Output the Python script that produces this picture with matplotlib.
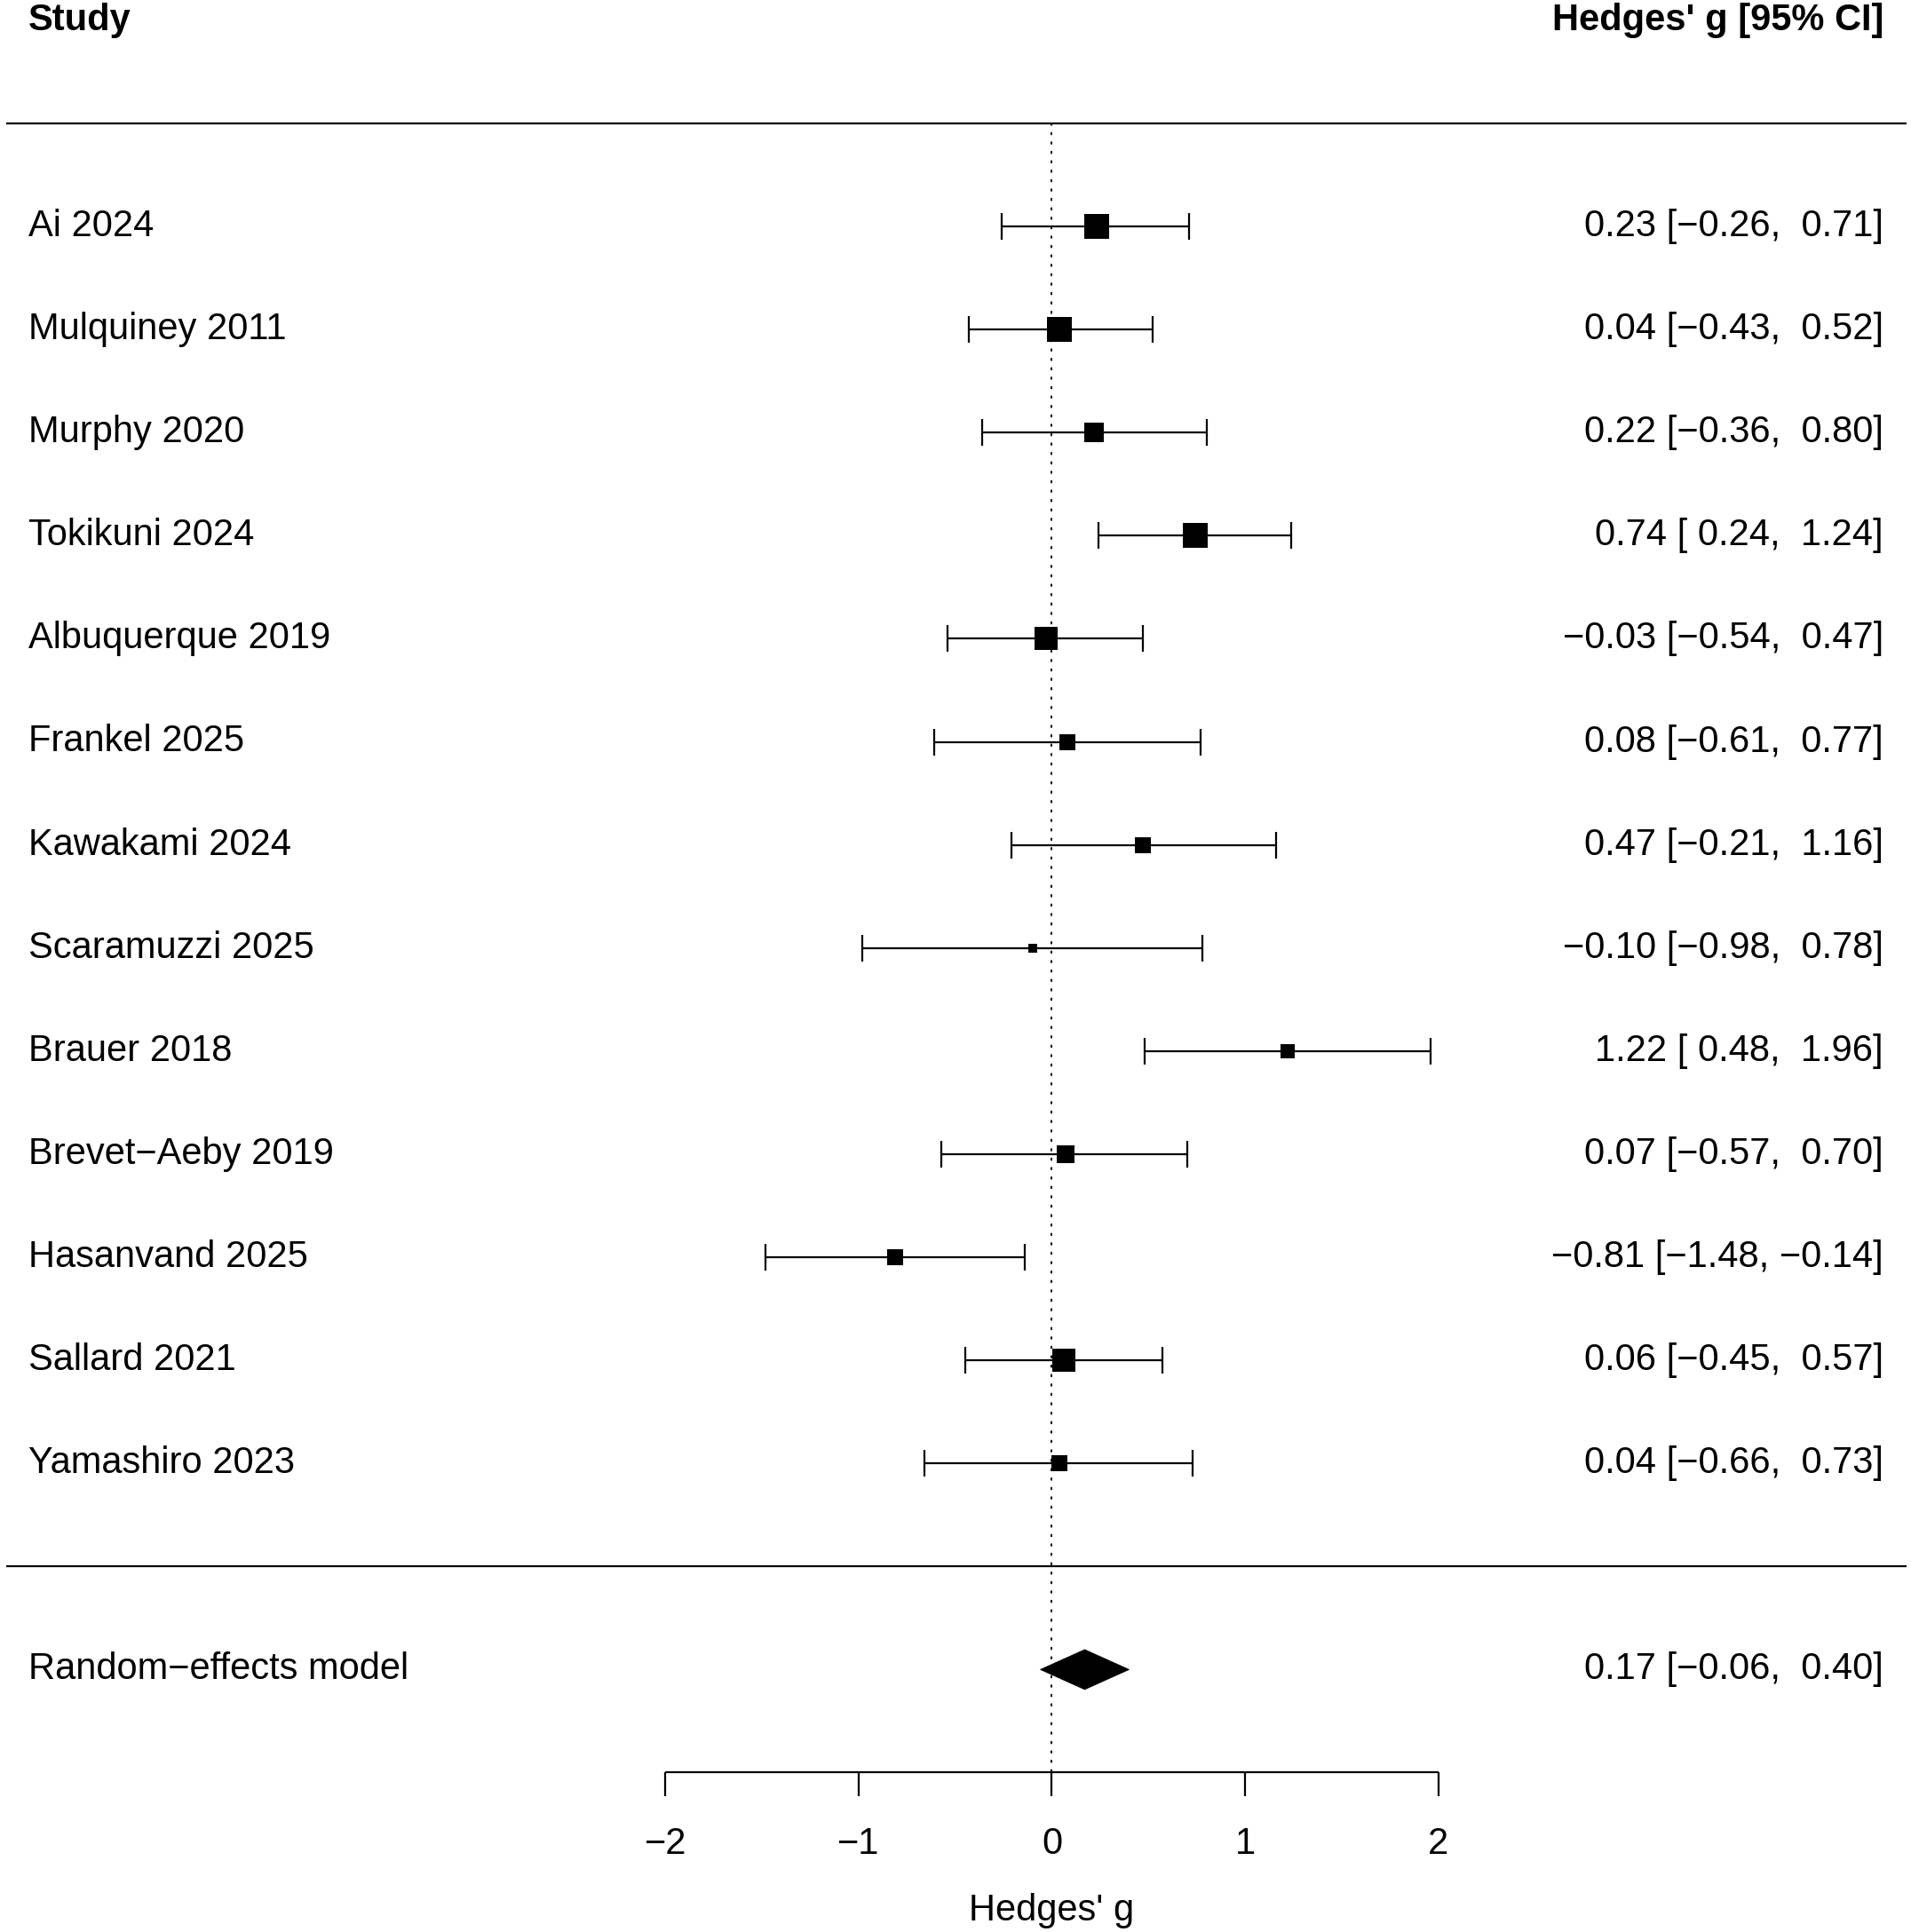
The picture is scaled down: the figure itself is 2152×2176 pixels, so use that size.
import matplotlib
matplotlib.use("Agg")
import matplotlib.pyplot as plt
from matplotlib.patches import Polygon

# ---------------- data ----------------
studies = ["Ai 2024", "Mulquiney 2011", "Murphy 2020", "Tokikuni 2024",
           "Albuquerque 2019", "Frankel 2025", "Kawakami 2024", "Scaramuzzi 2025",
           "Brauer 2018", "Brevet\u2212Aeby 2019", "Hasanvand 2025", "Sallard 2021",
           "Yamashiro 2023"]
estimates = [0.23, 0.04, 0.22, 0.74, -0.03, 0.08, 0.47, -0.10, 1.22, 0.07, -0.81, 0.06, 0.04]
ci_lower = [-0.26, -0.43, -0.36, 0.24, -0.54, -0.61, -0.21, -0.98, 0.48, -0.57, -1.48, -0.45, -0.66]
ci_upper = [0.71, 0.52, 0.80, 1.24, 0.47, 0.77, 1.16, 0.78, 1.96, 0.70, -0.14, 0.57, 0.73]
weights = [9.02, 9.13, 8.02, 8.86, 8.80, 6.96, 7.00, 5.42, 6.51, 7.47, 7.14, 8.75, 6.91]

model_label = "Random\u2212effects model"
model_est = 0.17
model_lower = -0.06
model_upper = 0.40

x_ticks = [-2, -1, 0, 1, 2]
x_tick_labels = ["\u22122", "\u22121", "0", "1", "2"]
x_label = "Hedges' g"
header_left = "Study"
header_right = "Hedges' g [95% CI]"

# ---------------- layout ----------------
W, H, DPI = 2152, 2176, 100
PX_X0 = 1184.5      # pixel of g = 0
PX_UNIT = 217.6     # pixels per unit of g
PX_ROW1 = 255.0     # pixel of first study row
PX_ROW = 116.1      # pixels per row

def gx(px):
    return (px - PX_X0) / PX_UNIT

def row(py):
    return 1 + (py - PX_ROW1) / PX_ROW

FONT = "Liberation Sans"
FS = 30
LW = 1.6
px2pt = 72.0 / DPI

fig = plt.figure(figsize=(W / DPI, H / DPI), dpi=DPI)
ax = fig.add_axes([0, 0, 1, 1])
ax.set_xlim(gx(0), gx(W))
ax.set_ylim(row(H), row(0))
ax.axis("off")

def fmt(v):
    s = f"{v:.2f}"
    return s.replace("-", "\u2212")

def annot(e, lo, hi):
    return f"{fmt(e)} [{fmt(lo):>5}, {fmt(hi):>5}]"

x_left_text = gx(32)
x_right_text = gx(2121)
x_line_l, x_line_r = gx(7), gx(2147)

n = len(studies)
rows = list(range(1, n + 1))

# header
ax.text(x_left_text, -1, header_left, ha="left", va="center", fontsize=FS,
        fontweight="bold", family=FONT)
ax.text(x_right_text, -1, header_right, ha="right", va="center", fontsize=FS,
        fontweight="bold", family=FONT)

# separator lines
ax.plot([x_line_l, x_line_r], [0, 0], color="black", lw=LW, solid_capstyle="butt")
ax.plot([x_line_l, x_line_r], [n + 1, n + 1], color="black", lw=LW, solid_capstyle="butt")

# reference line
axis_row = n + 3
ax.plot([0, 0], [0, axis_row], color="black", lw=1.4,
        linestyle=(0, (0.9, 4.55)), dash_capstyle="round")

# study rows
wmin, wmax = min(weights), max(weights)
for r, name, e, lo, hi, w in zip(rows, studies, estimates, ci_lower, ci_upper, weights):
    ax.text(x_left_text, r, name, ha="left", va="center", fontsize=FS, family=FONT)
    ax.text(x_right_text, r, annot(e, lo, hi), ha="right", va="center",
            fontsize=FS, family=FONT)
    ax.errorbar([e], [r], xerr=[[e - lo], [hi - e]], fmt="none", ecolor="black",
                elinewidth=LW, capsize=10.8, capthick=LW)
    psize = 0.5 + (w - wmin) / (wmax - wmin)
    ax.plot([e], [r], marker="s", color="black", markersize=19 * psize * px2pt,
            markeredgewidth=0, linestyle="none", zorder=5)

# pooled estimate
mrow = n + 2
ax.text(x_left_text, mrow, model_label, ha="left", va="center", fontsize=FS, family=FONT)
ax.text(x_right_text, mrow, annot(model_est, model_lower, model_upper), ha="right",
        va="center", fontsize=FS, family=FONT)
dh = 22.5 / PX_ROW
diamond = Polygon([[model_lower, mrow], [model_est, mrow - dh],
                   [model_upper, mrow], [model_est, mrow + dh]],
                  closed=True, facecolor="black", edgecolor="black", lw=0.5, zorder=5)
ax.add_patch(diamond)

# x axis
tick_len = 27 / PX_ROW
ax.plot([min(x_ticks), max(x_ticks)], [axis_row, axis_row], color="black", lw=LW,
        solid_capstyle="butt")
for t, lab in zip(x_ticks, x_tick_labels):
    ax.plot([t, t], [axis_row, axis_row + tick_len], color="black", lw=LW,
            solid_capstyle="butt")
    ax.text(t, row(2076.5), lab, ha="center", va="center", fontsize=FS, family=FONT)
ax.text(0, row(2151.5), x_label, ha="center", va="center", fontsize=FS, family=FONT)

fig.savefig("out.png", dpi=DPI, facecolor="white")
